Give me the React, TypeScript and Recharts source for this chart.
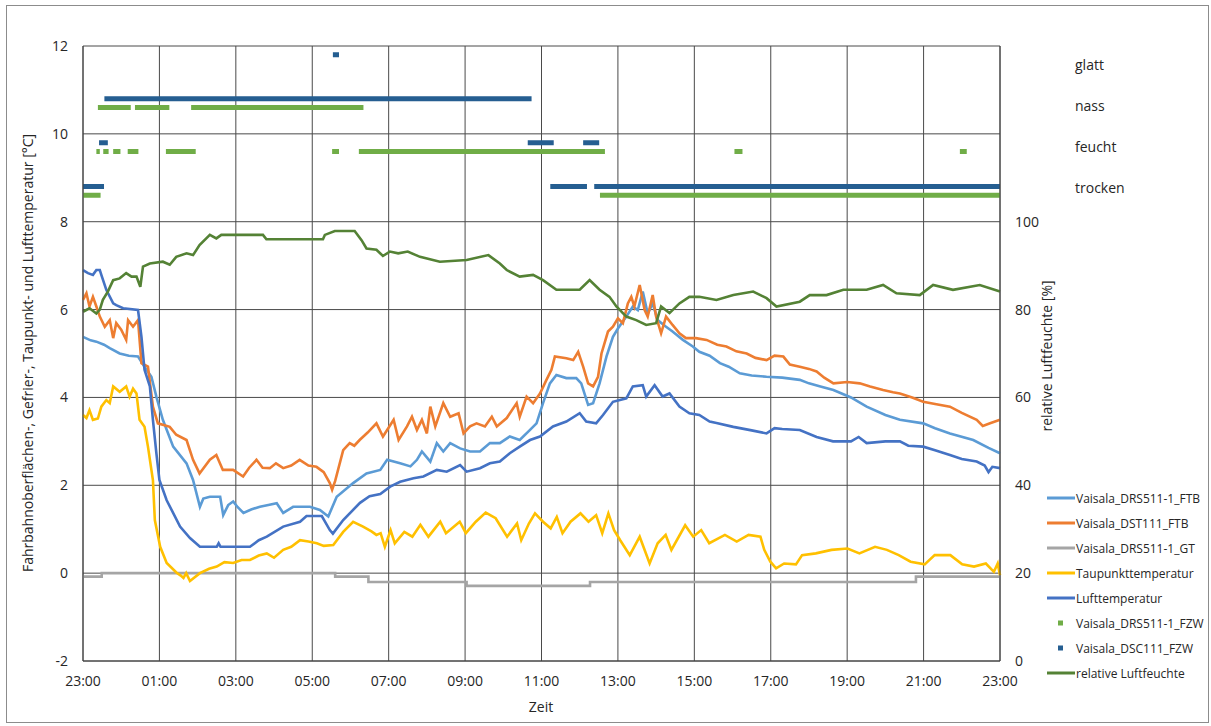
import React from 'react';
import { LineChart, Line, XAxis, YAxis, CartesianGrid } from 'recharts';

type Pair = [number, number];
type Seg = [number, number, number];

// time axis: hours after 23:00
const hourTicks = [0, 2, 4, 6, 8, 10, 12, 14, 16, 18, 20, 22, 24];
const tempTicks = [-2, 0, 2, 4, 6, 8, 10, 12];
const humTicks = [0, 20, 40, 60, 80, 100];
const statusLabels = ['glatt', 'nass', 'feucht', 'trocken'];

const drsFtb: Pair[] = [[0,5.38],[0.2,5.3],[0.35,5.27],[0.55,5.2],[0.7,5.12],[0.96,5.0],[1.2,4.95],[1.44,4.93],[1.61,4.7],[1.79,4.47],[1.92,4.02],[2.09,3.49],[2.36,2.88],[2.71,2.5],[2.88,2.12],[3.06,1.51],[3.15,1.7],[3.32,1.74],[3.59,1.74],[3.67,1.32],[3.8,1.55],[3.93,1.63],[4.05,1.5],[4.2,1.37],[4.4,1.45],[4.63,1.51],[4.85,1.55],[5.07,1.59],[5.24,1.37],[5.5,1.51],[5.94,1.51],[6.2,1.44],[6.42,1.29],[6.64,1.74],[7.07,2.05],[7.42,2.27],[7.78,2.35],[7.96,2.58],[8.3,2.5],[8.57,2.43],[8.74,2.58],[8.87,2.77],[9.09,2.54],[9.26,2.96],[9.43,2.77],[9.61,2.96],[9.87,2.84],[10.13,2.77],[10.39,2.77],[10.65,2.96],[10.91,2.96],[11.17,3.11],[11.43,3.03],[11.7,3.26],[11.87,3.41],[12.04,3.87],[12.22,4.32],[12.39,4.51],[12.65,4.44],[12.91,4.44],[13.04,4.32],[13.22,3.83],[13.35,3.87],[13.52,4.32],[13.7,4.93],[13.87,5.38],[14.0,5.57],[14.22,5.84],[14.39,6.07],[14.52,5.99],[14.65,6.41],[14.78,5.91],[14.91,6.14],[15.04,5.76],[15.26,5.61],[15.43,5.5],[15.7,5.31],[15.96,5.16],[16.13,5.04],[16.4,4.95],[16.67,4.78],[16.9,4.7],[17.19,4.55],[17.5,4.5],[17.89,4.47],[18.3,4.45],[18.76,4.4],[19.0,4.32],[19.3,4.25],[19.64,4.17],[20.1,4.0],[20.51,3.79],[21.0,3.6],[21.38,3.49],[21.99,3.41],[22.3,3.3],[22.69,3.18],[23.3,3.03],[23.7,2.85],[24,2.73]];

const dstFtb: Pair[] = [[0,6.22],[0.09,6.37],[0.17,6.07],[0.26,6.29],[0.35,6.07],[0.44,5.84],[0.57,5.61],[0.7,5.76],[0.79,5.35],[0.87,5.69],[1.0,5.54],[1.13,5.31],[1.18,5.76],[1.31,5.61],[1.44,5.76],[1.53,4.78],[1.7,4.7],[1.83,3.79],[1.96,3.41],[2.27,3.33],[2.44,3.15],[2.71,3.03],[2.88,2.58],[3.05,2.27],[3.32,2.58],[3.49,2.69],[3.66,2.35],[3.93,2.35],[4.19,2.2],[4.35,2.4],[4.54,2.58],[4.7,2.4],[4.89,2.39],[5.05,2.5],[5.24,2.39],[5.45,2.45],[5.67,2.58],[5.9,2.45],[6.11,2.42],[6.3,2.3],[6.46,2.05],[6.52,1.9],[6.6,2.1],[6.81,2.8],[6.98,2.96],[7.1,2.9],[7.24,3.03],[7.45,3.2],[7.68,3.41],[7.85,3.11],[7.96,3.26],[8.13,3.49],[8.26,3.03],[8.48,3.34],[8.61,3.56],[8.74,3.26],[8.87,3.49],[9.0,3.18],[9.09,3.79],[9.22,3.34],[9.43,3.87],[9.61,3.56],[9.83,3.64],[9.96,3.18],[10.13,3.34],[10.3,3.41],[10.52,3.34],[10.7,3.56],[10.83,3.34],[11.09,3.53],[11.35,3.87],[11.43,3.56],[11.61,4.02],[11.78,3.87],[11.96,4.09],[12.13,4.4],[12.26,4.63],[12.35,4.93],[12.65,4.89],[12.83,4.85],[12.96,5.04],[13.09,4.7],[13.22,4.32],[13.35,4.25],[13.48,4.47],[13.57,5.0],[13.74,5.5],[13.87,5.61],[14.0,5.8],[14.13,5.69],[14.26,6.14],[14.35,6.29],[14.43,6.07],[14.57,6.56],[14.7,5.99],[14.78,5.84],[14.91,6.33],[15.0,5.84],[15.13,5.46],[15.26,5.84],[15.43,5.65],[15.61,5.46],[15.78,5.35],[16.04,5.35],[16.32,5.31],[16.6,5.2],[16.84,5.16],[17.1,5.05],[17.37,5.0],[17.6,4.9],[17.89,4.85],[18.1,4.95],[18.33,4.93],[18.5,4.75],[18.76,4.7],[19.0,4.65],[19.2,4.59],[19.4,4.45],[19.64,4.32],[20.0,4.35],[20.33,4.32],[20.6,4.25],[20.94,4.17],[21.2,4.12],[21.38,4.09],[21.7,4.0],[21.99,3.9],[22.3,3.85],[22.69,3.79],[23.0,3.65],[23.39,3.49],[23.55,3.35],[23.74,3.41],[24,3.49]];

const drsGt: Pair[] = [[0,-0.08],[0.49,0],[6.6,-0.08],[7.47,-0.2],[10.04,-0.29],[13.27,-0.2],[21.8,-0.08],[24,-0.08]];

const taupunkt: Pair[] = [[0,3.6],[0.09,3.53],[0.17,3.71],[0.26,3.49],[0.39,3.52],[0.48,3.79],[0.61,3.94],[0.7,3.87],[0.79,4.25],[0.96,4.13],[1.13,4.25],[1.22,4.02],[1.31,4.2],[1.4,4.09],[1.48,3.49],[1.61,3.33],[1.7,2.88],[1.83,2.12],[1.88,1.21],[2.02,0.6],[2.19,0.23],[2.45,0.01],[2.55,-0.05],[2.63,-0.11],[2.7,0.0],[2.8,-0.18],[3.06,0.0],[3.3,0.1],[3.5,0.15],[3.7,0.25],[3.93,0.23],[4.15,0.3],[4.37,0.3],[4.6,0.4],[4.81,0.45],[5.0,0.35],[5.24,0.53],[5.45,0.6],[5.68,0.75],[5.9,0.72],[6.12,0.68],[6.3,0.62],[6.55,0.64],[6.81,0.94],[7.07,1.17],[7.33,1.06],[7.55,0.95],[7.68,0.87],[7.79,0.91],[7.9,0.6],[8.05,0.98],[8.16,0.68],[8.41,0.94],[8.62,0.83],[8.83,1.1],[9.04,0.83],[9.35,1.17],[9.5,0.91],[9.86,1.17],[10.02,0.91],[10.28,1.17],[10.54,1.38],[10.8,1.25],[11.1,0.83],[11.36,1.13],[11.47,0.75],[11.67,1.13],[11.83,1.36],[12.04,1.17],[12.24,1.02],[12.4,1.28],[12.55,0.91],[12.76,1.17],[13.02,1.36],[13.23,1.17],[13.43,1.32],[13.59,0.91],[13.75,1.36],[13.9,0.98],[14.06,0.75],[14.31,0.41],[14.57,0.83],[14.83,0.22],[15.04,0.68],[15.25,0.87],[15.4,0.53],[15.76,1.09],[15.97,0.83],[16.18,0.98],[16.39,0.68],[16.8,0.87],[17.11,0.72],[17.42,0.87],[17.73,0.83],[17.83,0.53],[17.99,0.26],[18.14,0.11],[18.35,0.22],[18.66,0.2],[18.82,0.41],[19.18,0.45],[19.59,0.53],[20.01,0.56],[20.32,0.45],[20.73,0.6],[21.04,0.53],[21.35,0.41],[21.66,0.26],[22.03,0.2],[22.29,0.41],[22.7,0.41],[23.01,0.2],[23.32,0.15],[23.63,0.22],[23.84,0.03],[23.94,0.22],[24,-0.05]];

const luft: Pair[] = [[0,6.9],[0.13,6.83],[0.26,6.79],[0.35,6.9],[0.44,6.9],[0.48,6.79],[0.61,6.45],[0.79,6.14],[0.87,6.1],[1.05,6.03],[1.44,5.99],[1.53,5.38],[1.61,4.63],[1.75,4.25],[1.83,3.49],[1.92,2.73],[2.0,2.12],[2.19,1.66],[2.54,1.06],[2.8,0.8],[3.06,0.6],[3.5,0.6],[3.55,0.68],[3.6,0.6],[4.37,0.6],[4.6,0.75],[4.81,0.83],[5.24,1.06],[5.68,1.17],[5.85,1.3],[6.25,1.3],[6.46,0.98],[6.54,0.9],[6.81,1.21],[7.25,1.6],[7.5,1.75],[7.78,1.8],[8.04,1.97],[8.3,2.08],[8.65,2.16],[8.91,2.2],[9.26,2.35],[9.52,2.31],[9.87,2.46],[10.04,2.31],[10.39,2.39],[10.65,2.5],[10.91,2.54],[11.17,2.73],[11.43,2.88],[11.7,3.03],[11.96,3.11],[12.3,3.34],[12.65,3.45],[13.0,3.64],[13.17,3.45],[13.43,3.41],[13.61,3.6],[13.87,3.9],[14.22,3.98],[14.39,4.25],[14.65,4.28],[14.74,4.02],[14.96,4.28],[15.17,4.02],[15.35,4.09],[15.61,3.79],[15.87,3.64],[16.13,3.6],[16.4,3.45],[16.58,3.42],[17.02,3.33],[17.5,3.25],[17.89,3.18],[18.1,3.3],[18.3,3.28],[18.76,3.26],[19.2,3.1],[19.63,3.0],[20.1,3.0],[20.3,3.1],[20.51,2.96],[21.0,3.0],[21.38,3.0],[21.6,2.9],[21.99,2.88],[22.3,2.8],[22.69,2.69],[23.0,2.6],[23.39,2.54],[23.6,2.45],[23.7,2.3],[23.8,2.42],[24,2.39]];

const humidity: Pair[] = [[0,79.5],[0.17,80.3],[0.35,79.1],[0.44,80],[0.52,82.2],[0.65,84.1],[0.79,86.7],[0.96,87.1],[1.13,88.3],[1.27,87.5],[1.4,87.5],[1.5,85.2],[1.57,89.8],[1.75,90.5],[2.09,90.9],[2.27,90.2],[2.44,92.0],[2.71,92.8],[2.88,92.4],[3.05,94.7],[3.32,97.0],[3.49,96.2],[3.62,97.0],[4.71,97.0],[4.8,96.0],[6.28,96.0],[6.33,97.0],[6.59,97.9],[7.11,97.9],[7.29,95.8],[7.42,93.9],[7.68,93.6],[7.85,92.2],[8.03,93.2],[8.25,92.8],[8.5,93.2],[8.82,92.0],[9.34,90.9],[10.04,91.3],[10.61,92.4],[10.91,90.5],[11.09,89.0],[11.43,87.5],[11.78,87.9],[12.04,86.7],[12.39,84.5],[13.0,84.5],[13.26,86.7],[13.52,84.5],[13.78,82.9],[13.96,80.7],[14.22,78.4],[14.48,77.6],[14.74,76.5],[15.0,76.9],[15.13,80.7],[15.35,79.2],[15.61,81.4],[15.87,82.9],[16.13,82.9],[16.58,82.2],[17.02,83.3],[17.54,84.1],[17.89,82.6],[18.15,80.7],[18.76,81.8],[19.02,83.3],[19.46,83.3],[19.9,84.5],[20.51,84.5],[20.94,85.6],[21.29,83.7],[21.9,83.3],[22.25,85.6],[22.77,84.5],[23.47,85.6],[24,84.1]];

// status segments: [start hour, end hour, level]
const drsFzw: Seg[] = [[0,0.46,8.6],[13.53,24,8.6],[0.35,0.44,9.6],[0.53,0.67,9.6],[0.79,0.98,9.6],[1.17,1.45,9.6],[2.17,2.95,9.6],[6.52,6.7,9.6],[7.22,13.66,9.6],[17.05,17.26,9.6],[22.95,23.13,9.6],[0.39,1.25,10.6],[1.36,2.26,10.6],[2.83,7.34,10.6]];
const dscFzw: Seg[] = [[0,0.55,8.8],[12.23,13.19,8.8],[13.38,24,8.8],[0.42,0.65,9.8],[11.64,12.32,9.8],[13.09,13.51,9.8],[0.56,11.74,10.8],[6.54,6.7,11.8]];

const toData = (p: Pair[]) => p.map(([h, v]) => ({ h, v }));
const segData = (s: Seg[]) => {
  const out: { h: number; v: number | null }[] = [];
  s.forEach(([a, b, lvl]) => {
    out.push({ h: a, v: lvl }, { h: b, v: lvl }, { h: b, v: null });
  });
  return out;
};

const FONT = '"Open Sans", "Noto Sans", sans-serif';
const TXT = '#262626';

const series = [
  { name: 'Vaisala_DRS511-1_FTB', color: '#5B9BD5', kind: 'line' },
  { name: 'Vaisala_DST111_FTB', color: '#ED7D31', kind: 'line' },
  { name: 'Vaisala_DRS511-1_GT', color: '#A5A5A5', kind: 'line' },
  { name: 'Taupunkttemperatur', color: '#FFC000', kind: 'line' },
  { name: 'Lufttemperatur', color: '#4472C4', kind: 'line' },
  { name: 'Vaisala_DRS511-1_FZW', color: '#70AD47', kind: 'marker' },
  { name: 'Vaisala_DSC111_FZW', color: '#255E91', kind: 'marker' },
  { name: 'relative Luftfeuchte', color: '#548235', kind: 'line' },
];

const fmtHour = (h: number) => {
  const hh = (23 + h) % 24;
  return `${hh < 10 ? '0' : ''}${hh}:00`;
};

const W = 1211;
const H = 726;

export default function App() {
  const tick = { fill: TXT, fontSize: 14, fontFamily: FONT };
  return (
    <div style={{ position: 'absolute', left: 0, top: 0, width: W, height: H, background: '#fff' }}>
      <div style={{ position: 'absolute', left: 6, top: 5, width: 1203, height: 718, border: '1px solid #8c8c8c', boxSizing: 'border-box' }} />
      <div style={{ position: 'absolute', left: 0, top: 0 }}>
        <LineChart width={W} height={H} margin={{ top: 46, right: 151, bottom: 35, left: 23 }}>
          <CartesianGrid yAxisId="left" stroke="#4a4a4a" strokeWidth={1} />
          <XAxis
            dataKey="h"
            type="number"
            domain={[0, 24]}
            ticks={hourTicks}
            tickFormatter={fmtHour}
            height={30}
            tickSize={0}
            tickMargin={15}
            tick={tick}
            axisLine={{ stroke: '#404040' }}
            allowDuplicatedCategory={false}
          />
          <YAxis
            yAxisId="left"
            orientation="left"
            domain={[-2, 12]}
            ticks={tempTicks}
            width={60}
            tickSize={0}
            tickMargin={15}
            tick={tick}
            axisLine={{ stroke: '#404040' }}
          />
          <YAxis
            yAxisId="right"
            orientation="right"
            domain={[0, 140]}
            ticks={humTicks}
            width={60}
            tickSize={0}
            tickMargin={15}
            tick={{ ...tick, textAnchor: 'start' }}
            axisLine={{ stroke: '#404040' }}
          />
          <Line yAxisId="left" data={toData(drsFtb)} dataKey="v" stroke="#5B9BD5" strokeWidth={2.6} dot={false} isAnimationActive={false} />
          <Line yAxisId="left" data={toData(dstFtb)} dataKey="v" stroke="#ED7D31" strokeWidth={2.6} dot={false} isAnimationActive={false} />
          <Line yAxisId="left" data={toData(drsGt)} dataKey="v" type="stepAfter" stroke="#A5A5A5" strokeWidth={2.6} dot={false} isAnimationActive={false} />
          <Line yAxisId="left" data={toData(taupunkt)} dataKey="v" stroke="#FFC000" strokeWidth={2.6} dot={false} isAnimationActive={false} />
          <Line yAxisId="left" data={toData(luft)} dataKey="v" stroke="#4472C4" strokeWidth={2.6} dot={false} isAnimationActive={false} />
          <Line yAxisId="left" data={segData(drsFzw)} dataKey="v" stroke="#70AD47" strokeWidth={5} strokeLinecap="butt" dot={false} connectNulls={false} isAnimationActive={false} />
          <Line yAxisId="left" data={segData(dscFzw)} dataKey="v" stroke="#255E91" strokeWidth={5} strokeLinecap="butt" dot={false} connectNulls={false} isAnimationActive={false} />
          <Line yAxisId="right" data={toData(humidity)} dataKey="v" stroke="#548235" strokeWidth={2.6} dot={false} isAnimationActive={false} />
        </LineChart>
      </div>
      <svg width={W} height={H} style={{ position: 'absolute', left: 0, top: 0, pointerEvents: 'none' }}>
        <text x={27} y={353} transform="rotate(-90 27 353)" textAnchor="middle" dominantBaseline="central" fontFamily={FONT} fontSize={14} fill={TXT}>
          Fahrbahnoberflächen-, Gefrier-, Taupunkt- und Lufttemperatur [°C]
        </text>
        <text x={1046} y={356} transform="rotate(-90 1046 356)" textAnchor="middle" dominantBaseline="central" fontFamily={FONT} fontSize={14} fill={TXT}>
          relative Luftfeuchte [%]
        </text>
        <text x={541} y={706} textAnchor="middle" dominantBaseline="central" fontFamily={FONT} fontSize={14} fill={TXT}>
          Zeit
        </text>
        {statusLabels.map((s, i) => (
          <text key={s} x={1075} y={64 + i * 41} dominantBaseline="central" fontFamily={FONT} fontSize={14} fill={TXT}>
            {s}
          </text>
        ))}
        {series.map((s, i) => {
          const y = 498 + i * 25;
          return (
            <g key={s.name}>
              {s.kind === 'line' ? (
                <line x1={1047} x2={1075} y1={y} y2={y} stroke={s.color} strokeWidth={3} />
              ) : (
                <rect x={1058} y={y - 2.5} width={5} height={5} fill={s.color} />
              )}
              <text x={1076} y={y} dominantBaseline="central" fontFamily={FONT} fontSize={12} fill={TXT}>
                {s.name}
              </text>
            </g>
          );
        })}
      </svg>
    </div>
  );
}
